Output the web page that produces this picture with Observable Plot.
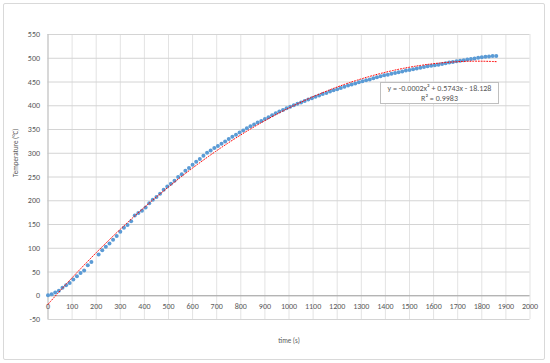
<!DOCTYPE html>
<html>
<head>
<meta charset="utf-8">
<script src="https://cdn.jsdelivr.net/npm/d3@7"></script>
<script src="https://cdn.jsdelivr.net/npm/@observablehq/plot@0.6"></script>
<style>
  html, body { margin: 0; padding: 0; background: #fff; }
  #wrap { position: relative; width: 550px; height: 363px; overflow: hidden; font-family: Carlito, Lato, "Open Sans", sans-serif; }
  #frame { position: absolute; left: 3px; top: 3px; width: 540px; height: 355px; border: 1px solid #d9d9d9; border-radius: 2px; pointer-events: none; }
  #eq { position: absolute; left: 380px; top: 82px; width: 117px; height: 20px; border: 1px solid #bfbfbf; background: #fff;
        color: #595959; font-size: 8px; line-height: 10px; text-align: center; }
</style>
</head>
<body>
<div id="wrap">
  <div id="chart"></div>
  <div id="frame"></div>
  <div id="eq"><div id="eq1"></div><div id="eq2"></div></div>
</div>
<script>
// time (s)
const times = [
  0, 15, 30, 45, 60, 75, 90, 105, 120, 135, 150, 165, 180,
  210, 225, 240, 255, 270, 285, 300, 315, 330, 345, 360, 375, 390, 405, 420, 435, 450, 465, 480, 495,
  510, 525, 540, 555, 570, 585, 600, 615, 630, 645, 660,
  675, 690, 705, 720, 735, 750, 765, 780, 795, 810, 825, 840, 855, 870, 885, 900, 915, 930, 945, 960,
  975, 990, 1005, 1020, 1035, 1050, 1065, 1080, 1095, 1110, 1125, 1140, 1155, 1170, 1185, 1200,
  1215, 1230, 1245, 1260, 1275, 1290, 1305, 1320, 1335, 1350, 1365, 1380, 1395, 1410, 1425, 1440,
  1455, 1470, 1485, 1500, 1515, 1530, 1545, 1560, 1575, 1590, 1605, 1620, 1635, 1650, 1665, 1680,
  1695, 1710, 1725, 1740, 1755, 1770, 1785, 1800, 1815, 1830, 1845, 1860
];
// Temperature (°C)
const temps = [
  1, 3, 7, 10.5, 17, 22, 27, 34, 41, 48, 53, 64, 71,
  87, 96, 103, 110, 118, 126, 134.5, 143, 149, 157, 169, 174, 179, 186, 195, 202, 208, 215, 223, 230,
  236, 242, 250, 256, 263, 269, 276, 282, 288, 295, 301,
  306, 311, 315.5, 320, 325, 330, 334.5, 339, 343.5, 348, 352.5, 357, 360.5, 364.5, 368, 372, 376, 380, 384, 388,
  391, 394.5, 398, 401, 404, 407, 410, 413, 416, 419, 421.5, 424.5, 427, 430, 432.5, 435,
  437.5, 440, 442.5, 445, 447, 449.5, 451.5, 453.5, 455.5, 458, 460, 462, 464, 465.5, 467.5, 469,
  470.5, 472, 474, 475.5, 477, 478.5, 480, 481.5, 483, 484, 485.5, 486.5, 488, 489.5, 491, 492,
  493.5, 495, 496, 497.5, 498.5, 499.5, 501, 502, 503, 503.5, 504.5, 505
];
const xTicks = [0, 100, 200, 300, 400, 500, 600, 700, 800, 900, 1000, 1100, 1200, 1300, 1400, 1500, 1600, 1700, 1800, 1900, 2000];
const yTicks = [-50, 0, 50, 100, 150, 200, 250, 300, 350, 400, 450, 500, 550];
const xTitle = "time (s)";
const yTitle = "Temperature (°C)";
const eqLine1 = "y = -0.0002x² + 0.5743x - 18.128";
const eqLine2 = "R² = 0.9983";

const data = times.map((t, i) => ({t, v: temps[i]}));

// polynomial (order 2) least-squares trendline, as the spreadsheet computes it
function fitQuad(xs, ys) {
  let s = [0, 0, 0, 0, 0], r = [0, 0, 0];
  xs.forEach((x, i) => {
    const y = ys[i];
    let p = 1;
    for (let k = 0; k < 5; k++) { s[k] += p; if (k < 3) r[k] += p * y; p *= x; }
  });
  const A = [[s[0], s[1], s[2], r[0]], [s[1], s[2], s[3], r[1]], [s[2], s[3], s[4], r[2]]];
  for (let i = 0; i < 3; i++) {
    for (let j = i + 1; j < 3; j++) {
      const f = A[j][i] / A[i][i];
      for (let k = i; k < 4; k++) A[j][k] -= f * A[i][k];
    }
  }
  const c = [0, 0, 0];
  for (let i = 2; i >= 0; i--) {
    let sum = A[i][3];
    for (let k = i + 1; k < 3; k++) sum -= A[i][k] * c[k];
    c[i] = sum / A[i][i];
  }
  return c;
}
const [c0, c1, c2] = fitQuad(times, temps);
const tMax = d3.max(times);
const trend = d3.range(0, tMax + 0.001, 5).map(t => ({t, v: c0 + c1 * t + c2 * t * t}));

const chart = Plot.plot({
  width: 550,
  height: 363,
  marginLeft: 47.5,
  marginRight: 20.5,
  marginTop: 34,
  marginBottom: 44,
  x: {domain: [0, 2000], axis: null},
  y: {domain: [-50, 550], axis: null},
  style: {fontFamily: "Carlito, Lato, 'Open Sans', sans-serif", fontSize: "8px", color: "#595959", background: "transparent"},
  marks: [
    Plot.ruleX(xTicks, {x: d => d, stroke: "#e3e3e3", strokeWidth: 1}),
    Plot.ruleY(yTicks, {y: d => d, stroke: "#d4d4d4", strokeWidth: 1}),
    Plot.ruleX([0], {x: d => d, stroke: "#bfbfbf", strokeWidth: 1}),
    Plot.ruleY([0], {y: d => d, stroke: "#a6a6a6", strokeWidth: 1}),
    Plot.text(yTicks, {y: d => d, frameAnchor: "left", dx: -8, textAnchor: "end", text: d => String(d), fill: "#595959"}),
    Plot.text(xTicks, {x: d => d, y: 0, dy: 11, text: d => String(d), fill: "#595959"}),
    Plot.dot(data, {x: "t", y: "v", r: 2, fill: "#5b9bd5", stroke: "none"}),
    Plot.line(trend, {x: "t", y: "v", stroke: "#ff0000", strokeWidth: 1, strokeDasharray: "1,1.8"}),
    Plot.text([yTitle], {frameAnchor: "left", rotate: -90, dx: -32.5, fontSize: 7, fill: "#595959", text: d => d}),
    Plot.text([xTitle], {frameAnchor: "bottom", lineAnchor: "middle", dy: 21, fontSize: 7, fill: "#595959", text: d => d})
  ]
});
document.getElementById("chart").appendChild(chart);
document.getElementById("eq1").textContent = eqLine1;
document.getElementById("eq2").textContent = eqLine2;
</script>
</body>
</html>
